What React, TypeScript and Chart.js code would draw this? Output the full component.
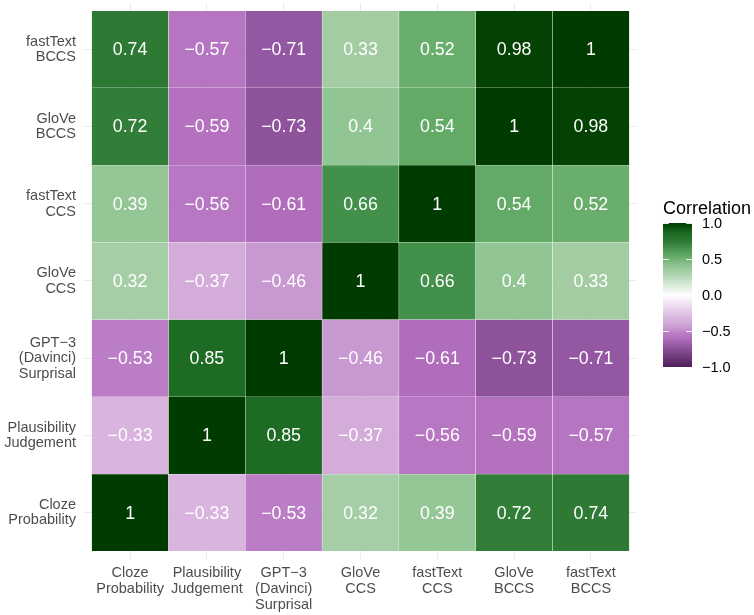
import React, { useEffect, useRef } from "react";
import { Chart, registerables } from "chart.js";

Chart.register(...registerables);

// Variables (bottom-to-top on y, left-to-right on x)
const axisLabels: string[][] = [
  ["Cloze", "Probability"],
  ["Plausibility", "Judgement"],
  ["GPT\u22123", "(Davinci)", "Surprisal"],
  ["GloVe", "CCS"],
  ["fastText", "CCS"],
  ["GloVe", "BCCS"],
  ["fastText", "BCCS"],
];

// Correlation rows, one per variable (column order as axisLabels)
const clozeRow = [1, -0.33, -0.53, 0.32, 0.39, 0.72, 0.74];
const plausibilityRow = [-0.33, 1, 0.85, -0.37, -0.56, -0.59, -0.57];
const gpt3Row = [-0.53, 0.85, 1, -0.46, -0.61, -0.73, -0.71];
const gloveCcsRow = [0.32, -0.37, -0.46, 1, 0.66, 0.4, 0.33];
const fastTextCcsRow = [0.39, -0.56, -0.61, 0.66, 1, 0.54, 0.52];
const gloveBccsRow = [0.72, -0.59, -0.73, 0.4, 0.54, 1, 0.98];
const fastTextBccsRow = [0.74, -0.57, -0.71, 0.33, 0.52, 0.98, 1];

const rows = [clozeRow, plausibilityRow, gpt3Row, gloveCcsRow, fastTextCcsRow, gloveBccsRow, fastTextBccsRow];

const legendBreaks = [1, 0.5, 0, -0.5, -1];
const legendLabels = ["1.0", "0.5", "0.0", "\u22120.5", "\u22121.0"];

// ---- colour palette stops (value, colour), interpolated in Lab ----
const paletteStops: [number, string][] = [
  [-1, "#4f1d5a"],
  [-0.72, "#91559e"],
  [-0.61, "#b06dbc"],
  [-0.53, "#bb7dc5"],
  [-0.46, "#c898d1"],
  [-0.35, "#d6b0dc"],
  [0, "#ffffff"],
  [0.33, "#a3cca3"],
  [0.4, "#92c594"],
  [0.53, "#66ac69"],
  [0.66, "#43904a"],
  [0.73, "#2f7b35"],
  [0.85, "#1e6b23"],
  [0.98, "#034203"],
  [1, "#003c00"],
];

function hexToRgb(h: string) {
  return [parseInt(h.slice(1, 3), 16), parseInt(h.slice(3, 5), 16), parseInt(h.slice(5, 7), 16)];
}
function toLin(c: number) {
  c /= 255;
  return c <= 0.04045 ? c / 12.92 : Math.pow((c + 0.055) / 1.055, 2.4);
}
function fromLin(c: number) {
  const v = c <= 0.0031308 ? 12.92 * c : 1.055 * Math.pow(c, 1 / 2.4) - 0.055;
  return Math.max(0, Math.min(255, Math.round(v * 255)));
}
const Xn = 0.95047, Yn = 1, Zn = 1.08883;
function f(t: number) {
  return t > 0.008856 ? Math.cbrt(t) : 7.787 * t + 16 / 116;
}
function finv(t: number) {
  return t > 0.206893 ? t * t * t : (t - 16 / 116) / 7.787;
}
function rgbToLab(rgb: number[]) {
  const r = toLin(rgb[0]), g = toLin(rgb[1]), b = toLin(rgb[2]);
  const X = 0.4124 * r + 0.3576 * g + 0.1805 * b;
  const Y = 0.2126 * r + 0.7152 * g + 0.0722 * b;
  const Z = 0.0193 * r + 0.1192 * g + 0.9505 * b;
  const fx = f(X / Xn), fy = f(Y / Yn), fz = f(Z / Zn);
  return [116 * fy - 16, 500 * (fx - fy), 200 * (fy - fz)];
}
function labToRgb(lab: number[]) {
  const fy = (lab[0] + 16) / 116;
  const fx = fy + lab[1] / 500;
  const fz = fy - lab[2] / 200;
  const X = Xn * finv(fx), Y = Yn * finv(fy), Z = Zn * finv(fz);
  const r = 3.2406 * X - 1.5372 * Y - 0.4986 * Z;
  const g = -0.9689 * X + 1.8758 * Y + 0.0415 * Z;
  const b = 0.0557 * X - 0.204 * Y + 1.057 * Z;
  return [fromLin(r), fromLin(g), fromLin(b)];
}
const labStops = paletteStops.map(([v, h]) => [v, rgbToLab(hexToRgb(h))] as [number, number[]]);
function colorFor(v: number) {
  const t = Math.max(-1, Math.min(1, v));
  let i = 0;
  while (i < labStops.length - 2 && t > labStops[i + 1][0]) i++;
  const [v0, l0] = labStops[i];
  const [v1, l1] = labStops[i + 1];
  const a = (t - v0) / (v1 - v0);
  const lab = [0, 1, 2].map((k) => l0[k] + (l1[k] - l0[k]) * a);
  const rgb = labToRgb(lab);
  return `rgb(${rgb[0]},${rgb[1]},${rgb[2]})`;
}

function fmt(v: number) {
  return String(v).replace("-", "\u2212");
}

const FONT = "'Liberation Sans', Arial, sans-serif";
const AXIS_COLOR = "#4d4d4d";

const tickValues = axisLabels.map((_, i) => i + 0.5);

const cellLabelPlugin = {
  id: "cellLabels",
  afterDatasetsDraw(chart: any) {
    const ctx = chart.ctx;
    ctx.save();
    ctx.fillStyle = "#ffffff";
    ctx.font = `17.8px ${FONT}`;
    ctx.textAlign = "center";
    ctx.textBaseline = "middle";
    chart.data.datasets.forEach((ds: any, di: number) => {
      const meta = chart.getDatasetMeta(di);
      meta.data.forEach((el: any, i: number) => {
        const p = el.getProps(["x", "y", "base"], true);
        ctx.fillText(fmt(rows[di][i]), p.x, (p.y + p.base) / 2 + 1);
      });
    });
    ctx.restore();
  },
};

const colorbarPlugin = {
  id: "colorbar",
  afterDraw(chart: any) {
    const ctx = chart.ctx;
    const left = chart.chartArea.right + 26;
    const w = 29;
    const top = 223;
    const bottom = 367;
    const yFor = (v: number) => top + ((1 - v) / 2) * (bottom - top);
    ctx.save();
    const grad = ctx.createLinearGradient(0, top, 0, bottom);
    for (let i = 0; i <= 80; i++) {
      const v = 1 - (2 * i) / 80;
      grad.addColorStop(i / 80, colorFor(v));
    }
    ctx.fillStyle = grad;
    ctx.fillRect(left, top, w, bottom - top);
    ctx.strokeStyle = "rgba(255,255,255,0.9)";
    ctx.lineWidth = 1;
    legendBreaks.forEach((b) => {
      const y = Math.round(yFor(b)) + 0.5;
      ctx.beginPath();
      ctx.moveTo(left, y);
      ctx.lineTo(left + w / 5, y);
      ctx.moveTo(left + w - w / 5, y);
      ctx.lineTo(left + w, y);
      ctx.stroke();
    });
    ctx.fillStyle = "#000000";
    ctx.font = `14.5px ${FONT}`;
    ctx.textAlign = "left";
    ctx.textBaseline = "middle";
    legendBreaks.forEach((b, i) => {
      ctx.fillText(legendLabels[i], left + w + 10, yFor(b) + 1);
    });
    ctx.font = `18px ${FONT}`;
    ctx.textBaseline = "alphabetic";
    ctx.fillText("Correlation", left, 214);
    ctx.restore();
  },
};

const zeroPad = (scale: any) => {
  scale.paddingLeft = 0;
  scale.paddingRight = 0;
  scale.paddingTop = 0;
  scale.paddingBottom = 0;
};

export default function App() {
  const ref = useRef<HTMLCanvasElement | null>(null);
  useEffect(() => {
    document.body.style.margin = "0";
    if (!ref.current) return;
    const datasets = rows.map((row, r) => ({
      label: axisLabels[r].join(" "),
      data: row.map((_, c) => ({ x: c + 0.5, y: [r, r + 1] })),
      backgroundColor: row.map((v) => colorFor(v)),
      borderColor: "rgba(255,255,255,0.22)",
      borderWidth: 0.5,
      borderSkipped: false,
      barPercentage: 1,
      categoryPercentage: 1,
      grouped: false,
    }));
    const chart = new Chart(ref.current, {
      type: "bar",
      data: { datasets: datasets as any },
      options: {
        animation: false,
        responsive: true,
        maintainAspectRatio: false,
        layout: { padding: { left: 0, top: 3, right: 117, bottom: 0 } },
        plugins: { legend: { display: false }, tooltip: { enabled: false } },
        scales: {
          x: {
            type: "linear",
            offset: false,
            min: -0.1,
            max: 7.1,
            afterBuildTicks: (scale: any) => {
              scale.ticks = tickValues.map((v) => ({ value: v }));
            },
            afterFit: (scale: any) => {
              scale.height = 56;
              zeroPad(scale);
            },
            ticks: {
              autoSkip: false,
              maxRotation: 0,
              padding: 6,
              color: AXIS_COLOR,
              font: { family: FONT, size: 14.5, lineHeight: "16px" },
              callback: (value: any) => axisLabels[Math.round(Number(value) - 0.5)] as any,
            },
            grid: { color: "#ebebeb", lineWidth: 1, drawTicks: false, offset: false },
            border: { display: false },
          },
          y: {
            type: "linear",
            min: -0.1,
            max: 7.1,
            afterBuildTicks: (scale: any) => {
              scale.ticks = tickValues.map((v) => ({ value: v }));
            },
            afterFit: (scale: any) => {
              scale.width = 84;
              zeroPad(scale);
            },
            ticks: {
              autoSkip: false,
              padding: 8,
              color: AXIS_COLOR,
              font: { family: FONT, size: 14.5, lineHeight: "15.5px" },
              callback: (value: any) => axisLabels[Math.round(Number(value) - 0.5)] as any,
            },
            grid: { color: "#ebebeb", lineWidth: 1, drawTicks: false },
            border: { display: false },
          },
        },
      },
      plugins: [cellLabelPlugin, colorbarPlugin],
    });
    return () => chart.destroy();
  }, []);
  return (
    <div style={{ position: "fixed", left: 0, top: 0, width: 754, height: 615, background: "#fff" }}>
      <canvas ref={ref} />
    </div>
  );
}
